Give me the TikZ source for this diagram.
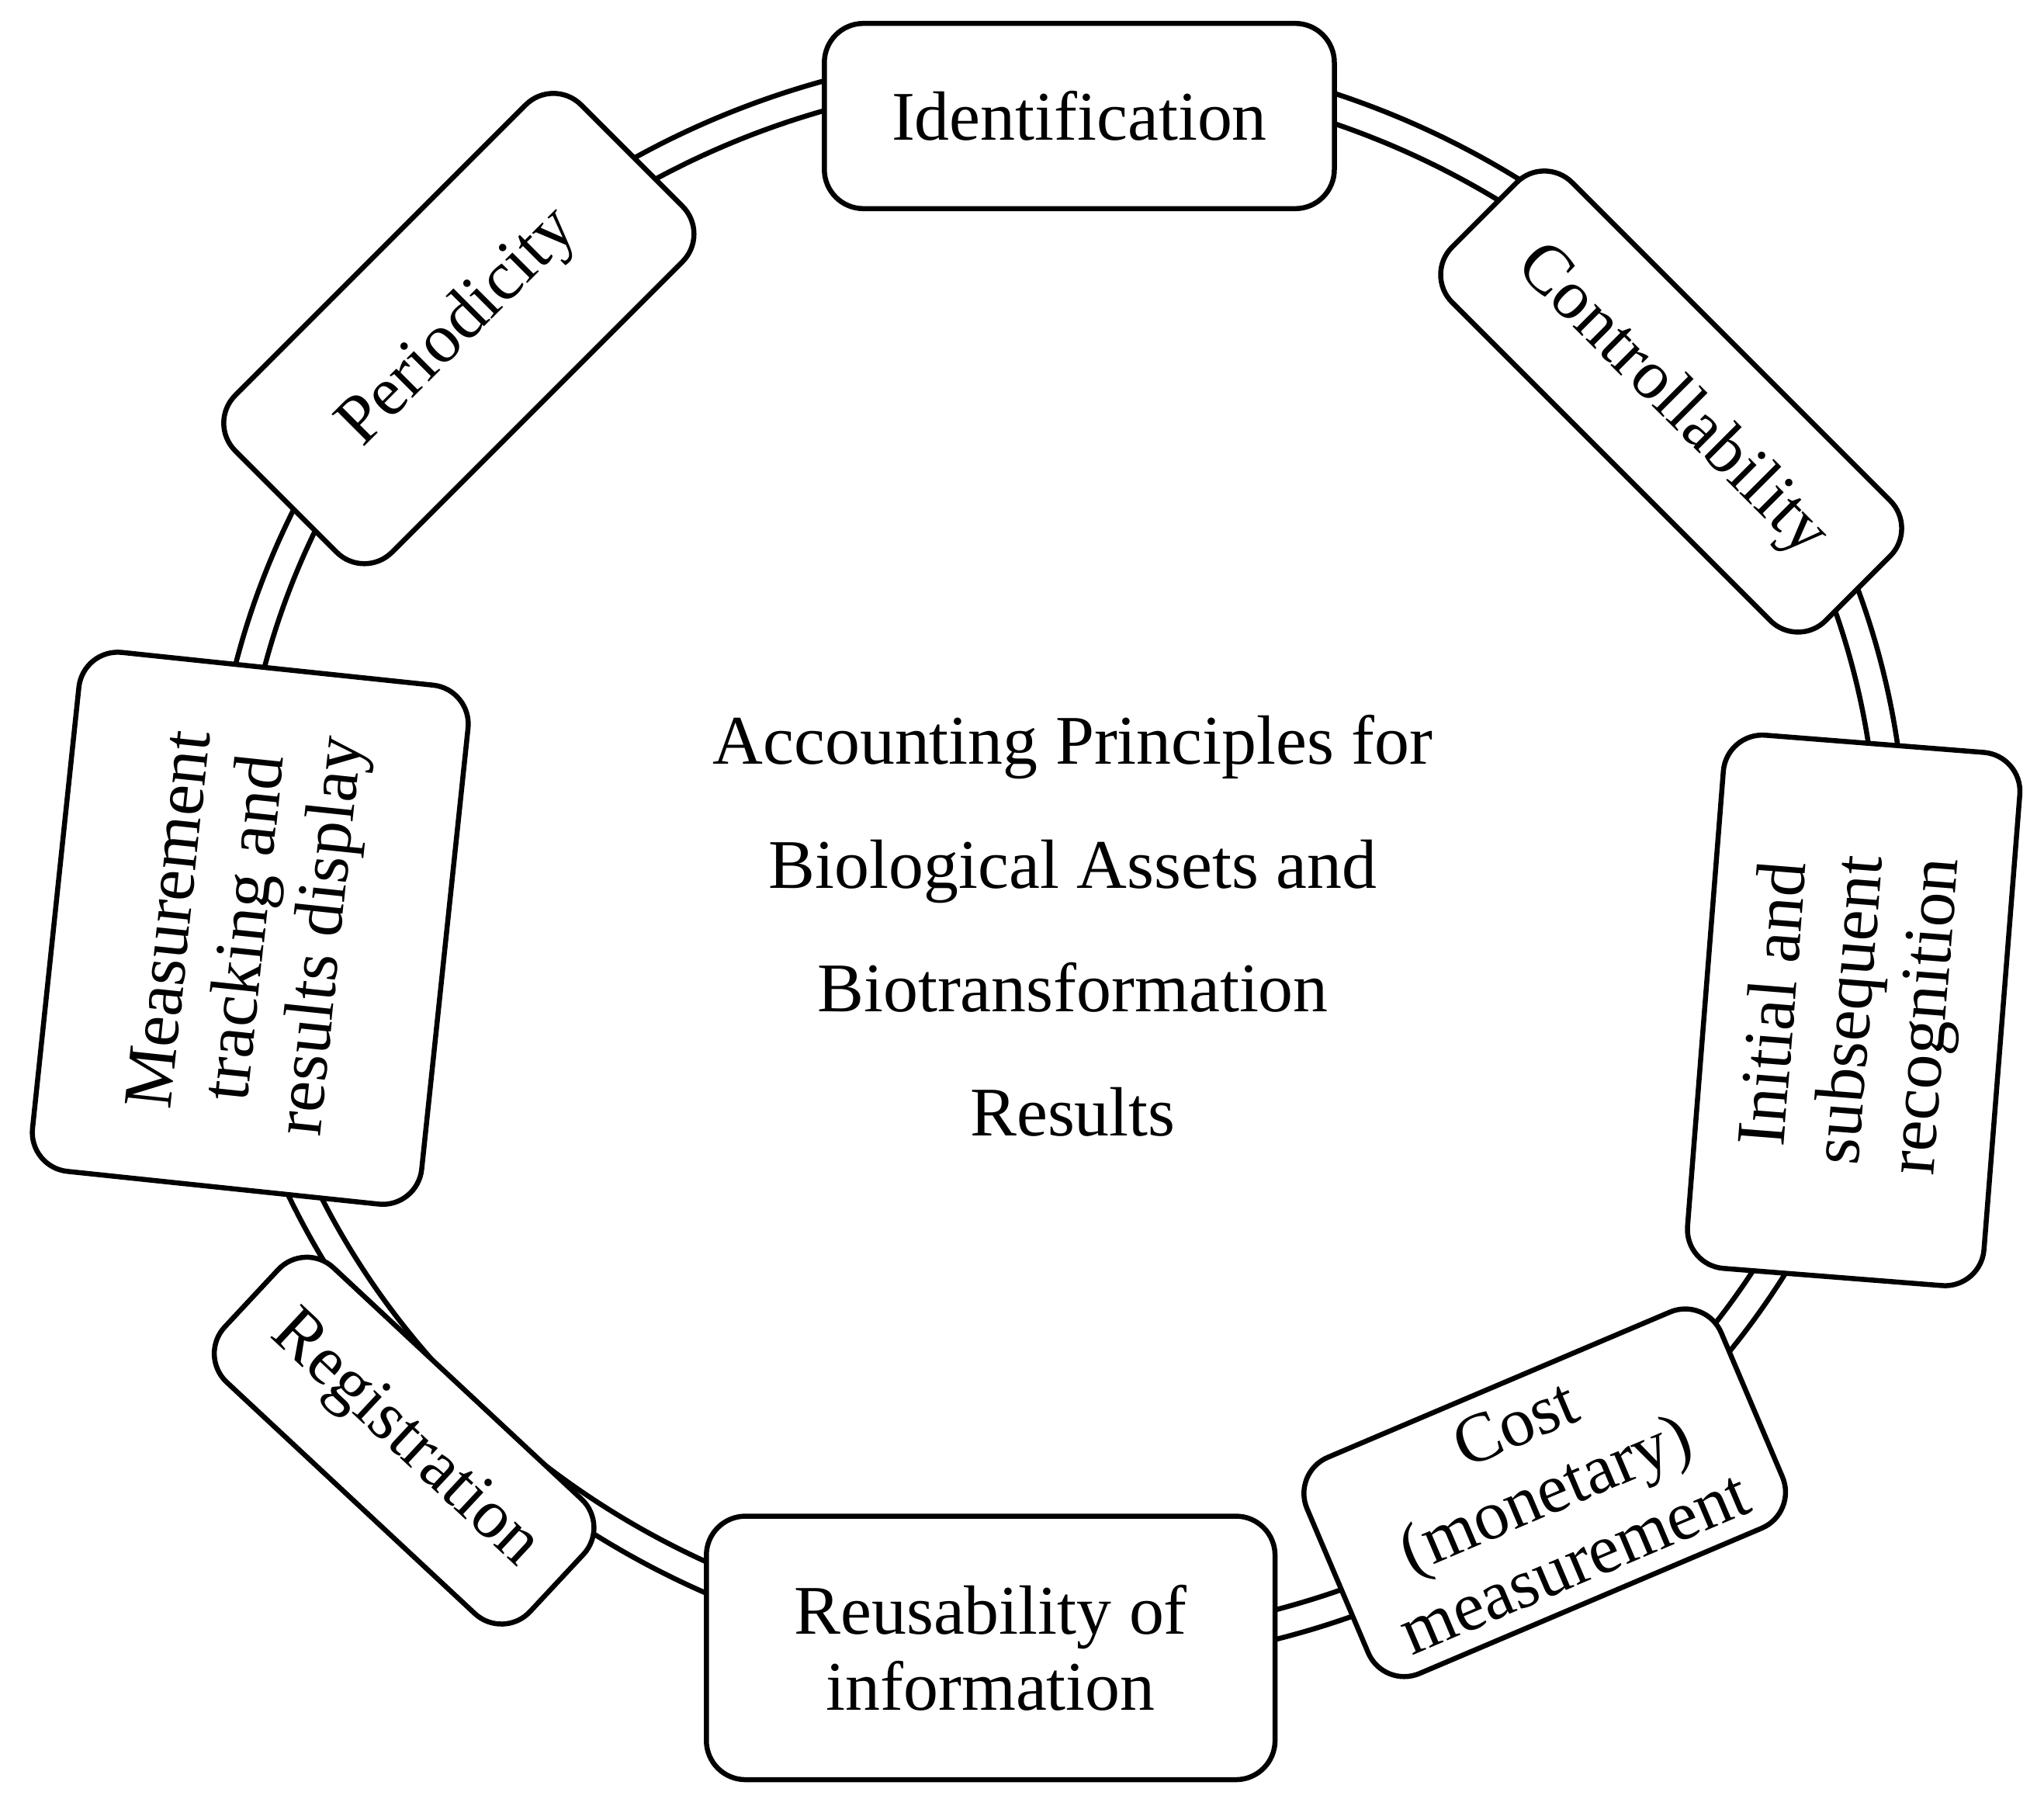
\documentclass[tikz,border=0pt]{standalone}
\usepackage{fontspec}
\setmainfont{Liberation Serif}
\begin{document}
\begin{tikzpicture}[x=0.01cm,y=-0.01cm,
  box/.style={draw,line width=1.1pt,rounded corners=3mm,fill=white,align=center,font=\fontsize{15.2}{16.5}\selectfont,inner sep=2pt}]
\useasboundingbox (0,0) rectangle (1568,1385);
\draw[line width=1.1pt] (812,658) ellipse [x radius=650, y radius=620];
\draw[line width=1.1pt] (812,658) ellipse [x radius=628, y radius=598];
\node[box,minimum width=3.91cm,minimum height=1.42cm] (id) at (828,89) {Identification};
\node[box,rotate=-45,minimum width=4.05cm,minimum height=1.3cm] (ctrl) at (1282,308) {Controllability};
\node[box,rotate=85.5,minimum width=4.1cm,minimum height=2.28cm] (init) at (1422,775) {Initial and\\subsequent\\recognition};
\node[box,rotate=23,minimum width=3.45cm,minimum height=1.8cm] (cost) at (1185,1145) {Cost\\(monetary)\\measurement};
\node[box,minimum width=4.36cm,minimum height=2.02cm] (reuse) at (760,1264) {Reusability of\\information};
\node[box,rotate=-43,minimum width=3.2cm,minimum height=1.2cm] (reg) at (310,1105) {Registration};
\node[box,rotate=84,minimum width=4.0cm,minimum height=3.0cm] (meas) at (192,712) {Measurement\\tracking and\\results display};
\node[box,rotate=45,minimum width=3.75cm,minimum height=1.7cm] (per) at (352,252) {Periodicity};
\node[align=center,font=\fontsize{15.2}{27}\selectfont] (c) at (823,710) {Accounting Principles for\\Biological Assets and\\Biotransformation\\Results};
\end{tikzpicture}
\end{document}
